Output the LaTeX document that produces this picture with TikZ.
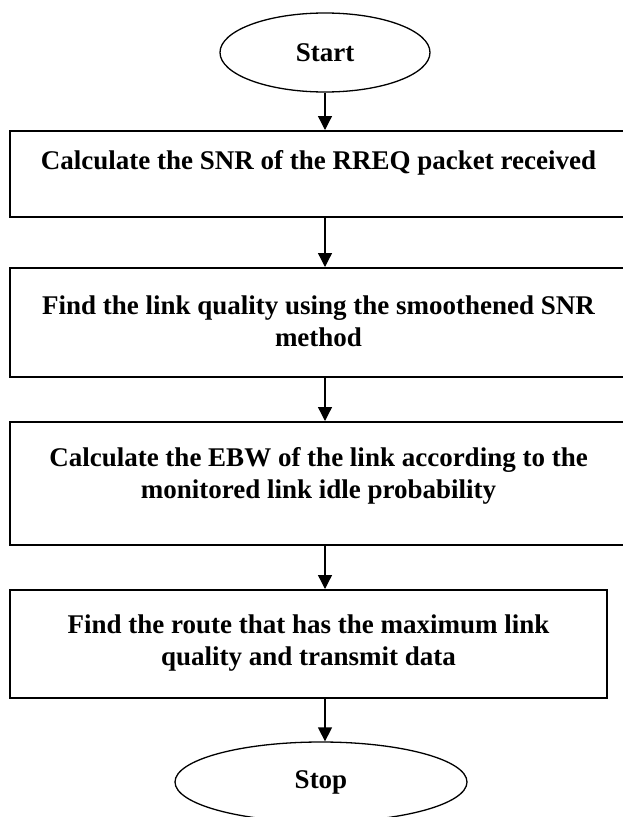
\documentclass[tikz,border=0pt]{standalone}
\usepackage{fontspec}
\setmainfont{Liberation Serif}
\usetikzlibrary{shapes.geometric,arrows.meta,calc}
\newcommand{\flowfont}{\fontsize{27}{31.5}\selectfont\bfseries}
\begin{document}
\begin{tikzpicture}[x=1pt,y=-1pt,
  box/.style={draw, line width=2pt, inner sep=0pt},
  term/.style={ellipse, draw, line width=1.3pt, inner sep=0pt, font=\flowfont},
  txt/.style={font=\flowfont, align=center, anchor=base, inner sep=0pt},
  arr/.style={-{Triangle[length=14pt,width=14pt]}, line width=1.3pt}]
\useasboundingbox (0,0) rectangle (623,817);
\clip (0,0) rectangle (623,817);
\fill[white] (0,0) rectangle (623,817);

\node[term, minimum width=210pt, minimum height=79pt] (start) at (325,52.5) {Start};

\node[box, minimum width=617pt, minimum height=86pt]  (b1) at (318.5,174) {};
\node[box, minimum width=617pt, minimum height=109pt] (b2) at (318.5,322.5) {};
\node[box, minimum width=617pt, minimum height=123pt] (b3) at (318.5,483.5) {};
\node[box, minimum width=597pt, minimum height=108pt] (b4) at (308.5,644) {};

% base anchor of a two-line node is the baseline of its last line
\node[txt] (t1) at (318.5,169) {Calculate the SNR of the RREQ packet received};
\node[txt] (t2) at (318.5,346) {Find the link quality using the smoothened SNR\\method};
\node[txt] (t3) at (318.5,498) {Calculate the EBW of the link according to the\\monitored link idle probability};
\node[txt] (t4) at (308.5,665) {Find the route that has the maximum link\\quality and transmit data};

\node[term, minimum width=292pt, minimum height=80pt] (stop) at (321,782) {Stop};

\coordinate (ax) at (325,0);
\draw[arr] (start.south) -- (b1.north -| ax);
\draw[arr] (b1.south -| ax) -- (b2.north -| ax);
\draw[arr] (b2.south -| ax) -- (b3.north -| ax);
\draw[arr] (b3.south -| ax) -- (b4.north -| ax);
\draw[arr] (b4.south -| ax) -- (stop.north -| ax);
\end{tikzpicture}
\end{document}
